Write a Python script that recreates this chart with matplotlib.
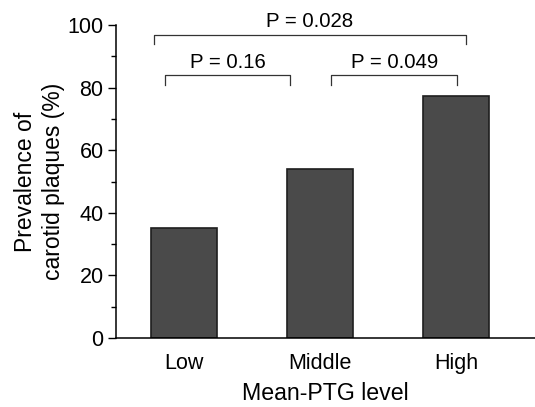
import matplotlib.pyplot as plt
from matplotlib.ticker import MultipleLocator

plt.rcParams['font.family'] = ['Liberation Sans', 'DejaVu Sans']

# Data
levels = ["Low", "Middle", "High"]
prevalence = [35.2, 54.0, 77.3]

# P-value brackets: (left x, right x, bar y, drop y, label)
brackets = [
    (-0.22, 2.07, 97.0, 94.0, "P = 0.028"),
    (-0.14, 0.78, 84.0, 81.0, "P = 0.16"),
    (1.08, 2.01, 84.0, 81.0, "P = 0.049"),
]

fig = plt.figure(figsize=(5.35, 4.07), dpi=100)
ax = fig.add_axes([0.217, 0.17, 0.783, 0.768])

x = range(len(levels))
ax.bar(x, prevalence, width=0.48, color="#4a4a4a", edgecolor="#1e1e1e", linewidth=1.2)

# Significance brackets
for x0, x1, y_top, y_drop, label in brackets:
    ax.plot([x0, x0, x1, x1], [y_drop, y_top, y_top, y_drop],
            color="#333333", lw=0.9, clip_on=False)
    ax.text((x0 + x1) / 2, y_top + 1.0, label, ha="center", va="bottom",
            fontsize=14.7, clip_on=False)

ax.set_xlim(-0.5, 2.58)
ax.set_ylim(0, 100)
ax.set_xticks(list(x))
ax.set_xticklabels(levels, fontsize=15.5)
ax.yaxis.set_major_locator(MultipleLocator(20))
ax.yaxis.set_minor_locator(MultipleLocator(10))
ax.tick_params(axis="y", which="major", length=6, width=1, labelsize=15.5, pad=3)
ax.tick_params(axis="y", which="minor", length=3.5, width=1)
ax.tick_params(axis="x", length=0, pad=11)

for side in ["top", "right"]:
    ax.spines[side].set_visible(False)
ax.spines["left"].set_linewidth(1.1)
ax.spines["bottom"].set_linewidth(1.1)

ax.set_xlabel("Mean-PTG level", fontsize=16.7, labelpad=6)
ax.set_ylabel("Prevalence of\ncarotid plaques (%)", fontsize=16.5, labelpad=2,
              linespacing=1.25)

fig.savefig("out.png", dpi=100)
